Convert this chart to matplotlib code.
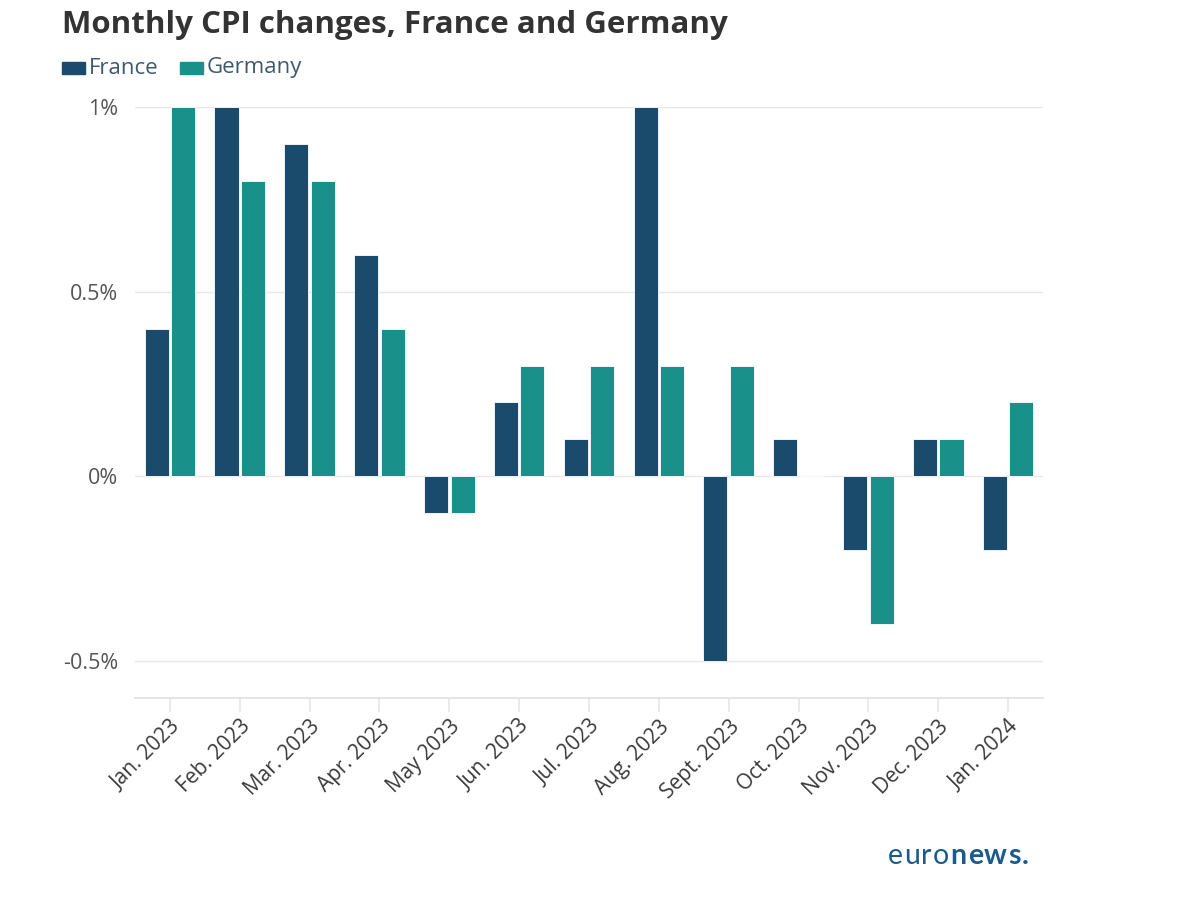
import matplotlib.pyplot as plt
from matplotlib.patches import Rectangle
import numpy as np

months = ["Jan. 2023", "Feb. 2023", "Mar. 2023", "Apr. 2023", "May 2023", "Jun. 2023",
          "Jul. 2023", "Aug. 2023", "Sept. 2023", "Oct. 2023", "Nov. 2023", "Dec. 2023",
          "Jan. 2024"]
france = [0.4, 1.0, 0.9, 0.6, -0.1, 0.2, 0.1, 1.0, -0.5, 0.1, -0.2, 0.1, -0.2]
germany = [1.0, 0.8, 0.8, 0.4, -0.1, 0.3, 0.3, 0.3, 0.3, 0.0, -0.4, 0.1, 0.2]
y_ticks = [-0.5, 0, 0.5, 1]
y_labels = ["-0.5%", "0%", "0.5%", "1%"]

FR_COL = "#1b4b6c"
DE_COL = "#1a908b"
GRID = "#e8e8e8"
LOGO = "#1b5a8c"

plt.rcParams['font.family'] = ['Open Sans', 'DejaVu Sans']

fig = plt.figure(figsize=(12, 9.08), dpi=100)
ax = fig.add_axes([0.1125, 0.2313, 0.7567, 0.6509])

x = np.arange(len(months))
w = 0.345
ax.bar(x - 0.19, france, w, color=FR_COL, edgecolor="white", linewidth=0.6, clip_on=False, zorder=3)
ax.bar(x + 0.19, germany, w, color=DE_COL, edgecolor="white", linewidth=0.6, clip_on=False, zorder=3)

ax.set_xlim(-0.5, 12.5)
ax.set_ylim(-0.6, 1.0)
ax.set_yticks(y_ticks)
ax.set_yticklabels(y_labels)
for v in y_ticks:
    ax.axhline(v, color=GRID, lw=1, zorder=1)

for s in ["top", "right", "left"]:
    ax.spines[s].set_visible(False)
ax.spines["bottom"].set_color("#e0e0e0")
ax.spines["bottom"].set_linewidth(1.2)

ax.tick_params(axis="y", length=0, pad=12, labelsize=15.5, labelcolor="#555555")
ax.tick_params(axis="x", length=10, width=1.2, color="#e6e6e6", pad=3,
               labelsize=15, labelcolor="#3a3a3a")
ax.set_xticks(x)
ax.set_xticklabels(months, rotation=45, ha="right", va="top", rotation_mode="anchor")

# title and legend
fig.text(62 / 1200, 1 - 25 / 908, "Monthly CPI changes, France and Germany",
         fontsize=22.5, fontweight="bold", color="#333333", va="center", ha="left")
leg_y = 1 - 68 / 908
for x0, col, lab in [(62, FR_COL, "France"), (180, DE_COL, "Germany")]:
    fig.patches.append(Rectangle((x0 / 1200, leg_y - 6 / 908), 23 / 1200, 12 / 908,
                                 transform=fig.transFigure, color=col))
    fig.text((x0 + 27) / 1200, leg_y, lab, fontsize=16, color="#3d5a6e",
             va="center", ha="left")

# logo, letters spaced out like the wordmark
fig.canvas.draw()
r = fig.canvas.get_renderer()
px = 888
for i, ch in enumerate("euronews."):
    t = fig.text(px / 1200, 1 - 854 / 908, ch, fontsize=20.5, family="Lato",
                 fontweight="bold" if i >= 4 else "normal", color=LOGO,
                 va="center_baseline", ha="left")
    bb = t.get_window_extent(r)
    px = bb.x1 + 1.2

fig.savefig("out.png", dpi=100, facecolor="white")
